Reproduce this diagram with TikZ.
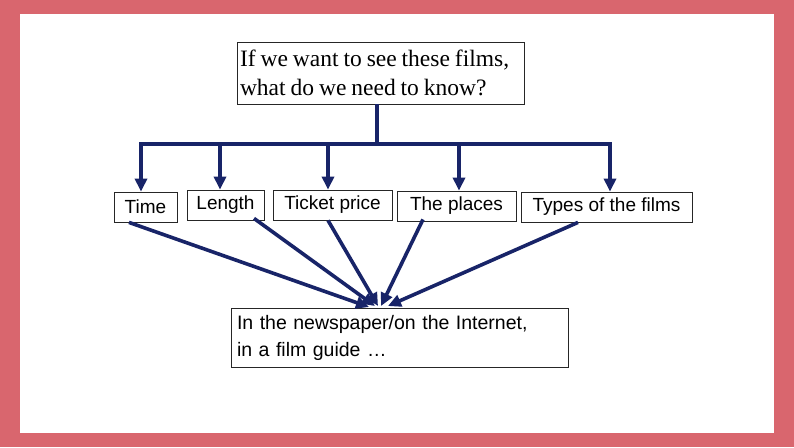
\documentclass[tikz,border=0pt]{standalone}
\usepackage{fontspec}
\setmainfont{Liberation Serif}
\setsansfont{Liberation Sans}
\usetikzlibrary{arrows.meta}
\definecolor{frame}{RGB}{217,102,110}
\definecolor{navy}{RGB}{24,36,104}
\tikzset{
  box/.style={draw=black!85, line width=0.8pt, fill=white, inner sep=0pt, font=\sffamily\fontsize{19}{23}\selectfont},
  trunk/.style={draw=navy, line width=3.6pt},
  arr/.style={draw=navy, line width=3.6pt, -{Triangle[length=13pt,width=12pt]}},
  arrs/.style={draw=navy, line width=3.6pt, -{Triangle[length=13pt,width=12pt]}},
}
\begin{document}
\begin{tikzpicture}[x=1pt,y=-1pt]
\useasboundingbox (0,0) rectangle (794,447);
\fill[frame] (0,0) rectangle (794,447);
\fill[white] (20,14) rectangle (774,433);

\node[box, minimum width=287pt, minimum height=62pt, text width=281pt, inner xsep=3pt, align=left,
      font=\rmfamily\fontsize{23.5}{29}\selectfont] (top) at (380.5,73)
  {\spaceskip=0.21em plus 0.05em\relax If we want to see these films,\\what do we need to know?};

\node[box, minimum width=63pt, minimum height=30pt] (time) at (145.5,207) {Time};
\node[box, minimum width=77pt, minimum height=30pt] (len) at (225.5,205) {Length};
\node[box, minimum width=119pt, minimum height=30pt] (tick) at (332.5,205) {Ticket price};
\node[box, minimum width=119pt, minimum height=30pt] (place) at (456.5,206) {The places};
\node[box, minimum width=171pt, minimum height=30pt] (types) at (606.5,207) {Types of the films};

\node[box, minimum width=337pt, minimum height=59pt, text width=325pt, align=left,
      font=\sffamily\fontsize{19.5}{27}\selectfont] (src) at (399.5,337.5)
  {In the newspaper/on the Internet,\\in a film guide \ldots};

\coordinate (hub) at (377,144);
\coordinate (bTime) at (141,144);
\coordinate (bLen) at (220,144);
\coordinate (bTick) at (328,144);
\coordinate (bPlace) at (459,144);
\coordinate (bTypes) at (610,144);

\draw[trunk] (top.south -| hub) -- (hub);
\draw[trunk, line cap=rect] (bTime) -- (bTypes);
\draw[arr] (bTime) -- (bTime |- time.north);
\draw[arr] (bLen) -- (bLen |- len.north);
\draw[arr] (bTick) -- (bTick |- tick.north);
\draw[arr] (bPlace) -- (bPlace |- place.north);
\draw[arr] (bTypes) -- (bTypes |- types.north);

\coordinate (tipA) at (369,307);
\coordinate (tipB) at (375,306);
\coordinate (tipC) at (378,306);
\coordinate (tipD) at (381,306);
\coordinate (tipE) at (388,306);

\draw[arrs] ([xshift=-16.5pt]time.south) -- (tipA);
\draw[arrs] ([xshift=28.5pt,yshift=2pt]len.south) -- (tipB);
\draw[arrs] ([xshift=-4.5pt]tick.south) -- (tipC);
\draw[arrs] ([xshift=-33.5pt,yshift=2pt]place.south) -- (tipD);
\draw[arrs] ([xshift=-28.5pt]types.south) -- (tipE);
\end{tikzpicture}
\end{document}
